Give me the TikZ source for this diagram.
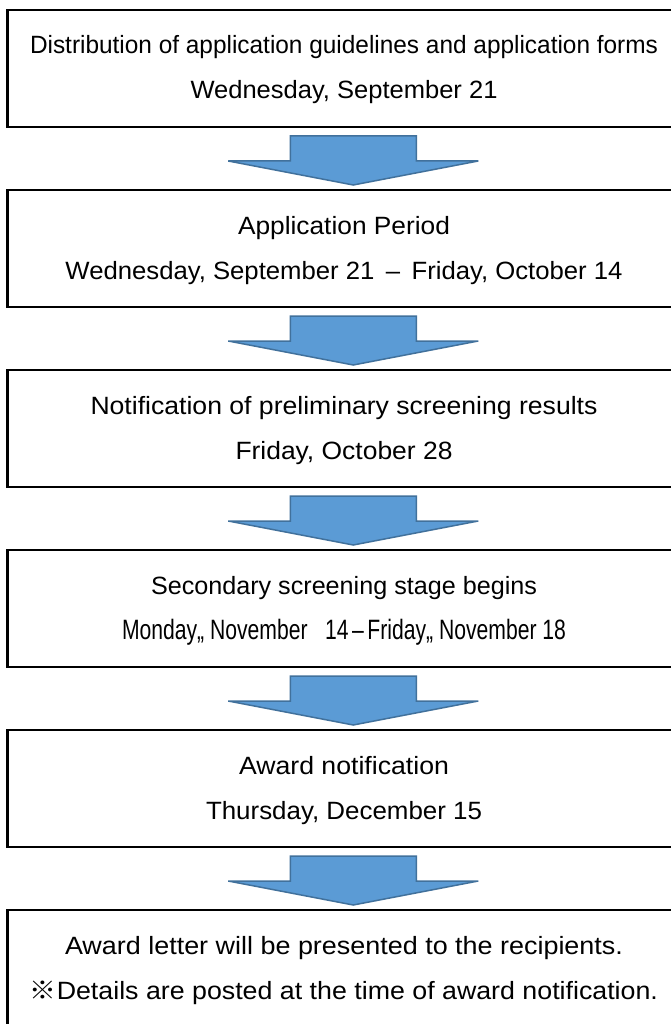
\documentclass[tikz,border=0pt]{standalone}
\usepackage{fontspec}
\usepackage{graphicx}
\setmainfont{Liberation Sans}
\newfontfamily\cjk{Noto Sans CJK JP}
\usetikzlibrary{calc}
\definecolor{arrowfill}{HTML}{5B9BD5}
\definecolor{arrowline}{HTML}{41719C}
\newsavebox\fitbox
\newcommand\fitw[2]{\sbox\fitbox{#2}\pgfmathsetmacro\fitr{#1/\the\wd\fitbox}\scalebox{\fitr}[1]{\usebox\fitbox}}
\tikzset{
  stepbox/.style={draw=black, line width=2.5pt, rectangle, minimum width=673.5pt, minimum height=117pt, inner sep=0pt, outer sep=0pt},
  steptext/.style={anchor=base, inner sep=0pt, font=\fontsize{25}{30}\selectfont},
  flowarrow/.style={fill=arrowfill, draw=arrowline, line width=1.5pt, line join=miter}
}
\begin{document}
\begin{tikzpicture}[x=1pt,y=-1pt]
\useasboundingbox (0,0) rectangle (671,1024);
\clip (0,0) rectangle (671,1024);
\fill[white] (0,0) rectangle (671,1024);
% boxes
\node[stepbox] (b1) at (344.25,68.5) {};
\node[stepbox] (b2) at (344.25,248.5) {};
\node[stepbox] (b3) at (344.25,428.5) {};
\node[stepbox] (b4) at (344.25,608.5) {};
\node[stepbox] (b5) at (344.25,788.5) {};
\node[stepbox] (b6) at (344.25,968.5) {};
% texts
\node[steptext] (t1a) at (344,54) {\fitw{628}{Distribution of application guidelines and application forms}};
\node[steptext] (t1b) at (344,99) {\fitw{307}{Wednesday, September 21}};
\node[steptext] (t2a) at (344,234) {\fitw{212}{Application Period}};
\node[steptext] (t2b) at (344,279) {\fitw{557}{Wednesday, September 21 \,–\, Friday, October 14}};
\node[steptext] (t3a) at (344,414) {\fitw{507}{Notification of preliminary screening results}};
\node[steptext] (t3b) at (344,459) {\fitw{217}{Friday, October 28}};
\node[steptext] (t4a) at (344,594) {\fitw{386}{Secondary screening stage begins}};
\node[steptext, font=\fontsize{28}{32}\selectfont] (t4b) at (344,639) {\fitw{444}{Monday,, November\ \ \ 14\,–\,Friday,, November 18}};
\node[steptext] (t5a) at (344,774) {\fitw{210}{Award notification}};
\node[steptext] (t5b) at (344,819) {\fitw{276}{Thursday, December 15}};
\node[steptext] (t6a) at (344,954) {\fitw{558}{Award letter will be presented to the recipients.}};
\node[steptext] (t6b) at (344,999) {\fitw{628}{{\cjk ※}Details are posted at the time of award notification.}};
% arrows
\foreach \a in {1,...,5}{
  \path (b\a.south) ++(9,9) coordinate (ar\a);
  \draw[flowarrow] (ar\a) ++(-63,0) -- ++(126,0) -- ++(0,25) -- ++(62,0) -- ++(-125,24) -- ++(-125,-24) -- ++(62,0) -- cycle;
}
\end{tikzpicture}
\end{document}
